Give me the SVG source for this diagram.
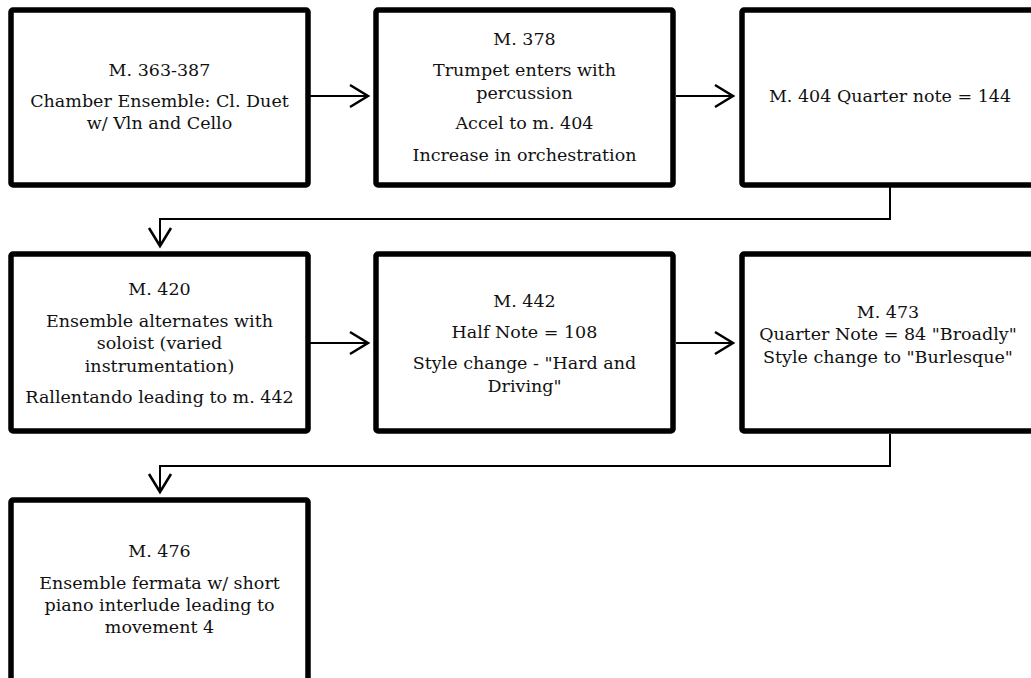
<svg xmlns="http://www.w3.org/2000/svg" width="1031" height="678" viewBox="0 0 1031 678">
<defs>
<style>
.box{fill:#fff;stroke:#000;stroke-width:5.5;stroke-linejoin:round}
.t{font-family:"DejaVu Serif","Liberation Serif",serif;font-size:17.5px;fill:#111;text-anchor:middle}
.c{fill:none;stroke:#000;stroke-width:2}
.h{fill:none;stroke:#000;stroke-width:2.5;stroke-linejoin:miter}
</style>
</defs>
<rect width="1031" height="678" fill="#fff"/>
<g id="connectors">
<line class="c" x1="310" y1="96" x2="368" y2="96"/>
<polyline class="h" points="350,85 368,96 350,107"/>
<line class="c" x1="676" y1="96" x2="733" y2="96"/>
<polyline class="h" points="715,85 733,96 715,107"/>
<polyline class="c" points="890,187 890,219 160,219 160,246"/>
<polyline class="h" points="149,228 160,246 171,228"/>
<line class="c" x1="310" y1="343" x2="368" y2="343"/>
<polyline class="h" points="350,332 368,343 350,354"/>
<line class="c" x1="676" y1="343" x2="733" y2="343"/>
<polyline class="h" points="715,332 733,343 715,354"/>
<polyline class="c" points="890,434 890,466 160,466 160,492"/>
<polyline class="h" points="149,474 160,492 171,474"/>
</g>
<g id="n1">
<rect class="box" x="11" y="10" width="297" height="175" rx="2"/>
<text class="t" x="159.5" y="76">M. 363-387</text>
<text class="t" x="159.5" y="107">Chamber Ensemble: Cl. Duet</text>
<text class="t" x="159.5" y="129">w/ Vln and Cello</text>
</g>
<g id="n2">
<rect class="box" x="376" y="10" width="297" height="175" rx="2"/>
<text class="t" x="524.5" y="45">M. 378</text>
<text class="t" x="524.5" y="76">Trumpet enters with</text>
<text class="t" x="524.5" y="98.5">percussion</text>
<text class="t" x="524.5" y="129">Accel to m. 404</text>
<text class="t" x="524.5" y="160.5">Increase in orchestration</text>
</g>
<g id="n3">
<rect class="box" x="742" y="10" width="297" height="175" rx="2"/>
<text class="t" x="890" y="102">M. 404 Quarter note = 144</text>
</g>
<g id="n4">
<rect class="box" x="11" y="254" width="297" height="177" rx="2"/>
<text class="t" x="159.5" y="295">M. 420</text>
<text class="t" x="159.5" y="326.5">Ensemble alternates with</text>
<text class="t" x="159.5" y="349">soloist (varied</text>
<text class="t" x="159.5" y="371.5">instrumentation)</text>
<text class="t" x="159.5" y="403">Rallentando leading to m. 442</text>
</g>
<g id="n5">
<rect class="box" x="376" y="254" width="297" height="177" rx="2"/>
<text class="t" x="524.5" y="306.5">M. 442</text>
<text class="t" x="524.5" y="337.5">Half Note = 108</text>
<text class="t" x="524.5" y="369">Style change - "Hard and</text>
<text class="t" x="524.5" y="392">Driving"</text>
</g>
<g id="n6">
<rect class="box" x="742" y="254" width="297" height="177" rx="2"/>
<text class="t" x="888" y="317.5">M. 473</text>
<text class="t" x="888" y="340">Quarter Note = 84 "Broadly"</text>
<text class="t" x="888" y="362.5">Style change to "Burlesque"</text>
</g>
<g id="n7">
<rect class="box" x="11" y="500" width="297" height="200" rx="2"/>
<text class="t" x="159.5" y="557">M. 476</text>
<text class="t" x="159.5" y="588.5">Ensemble fermata w/ short</text>
<text class="t" x="159.5" y="610.5">piano interlude leading to</text>
<text class="t" x="159.5" y="633">movement 4</text>
</g>
</svg>
